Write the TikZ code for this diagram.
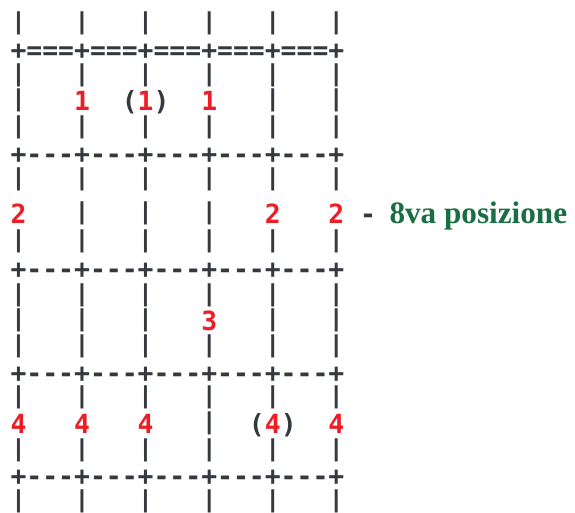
\documentclass[tikz,border=0pt]{standalone}
\usepackage{fontspec}
\usepackage{graphicx}
\setmonofont{DejaVu Sans Mono}
\newfontfamily\lblfont{Liberation Serif}
\definecolor{ink}{HTML}{35393E}
\definecolor{fr}{HTML}{EE1C25}
\definecolor{grn}{HTML}{1B6E43}
\newcommand\vb{\raisebox{3.4pt}{\scalebox{1}[0.88]{|}}}
\newcommand\R[1]{\textcolor{fr}{#1}}
\newcommand\bars{\vb~~~\vb~~~\vb~~~\vb~~~\vb~~~\vb}
\newcommand\dashrow{+---+---+---+---+---+}
\begin{document}
\begin{tikzpicture}[x=1pt,y=-1pt,
  asciiline/.style={anchor=base west, inner sep=0pt, outer sep=0pt, text=ink,
    font=\ttfamily\bfseries\fontsize{26.4}{26.4}\selectfont},
  posnote/.style={anchor=base west, inner sep=0pt, outer sep=0pt, text=grn,
    font=\lblfont\bfseries\fontsize{31.2}{31.2}\selectfont}]
\useasboundingbox (0,0) rectangle (575,513);
\node[asciiline] (r0)  at (10.56,32.9)  {\bars};
\node[asciiline] (r1)  at (10.56,59.8)  {+===+===+===+===+===+};
\node[asciiline] (r2)  at (10.56,84.6)  {\bars};
\node[asciiline] (r3)  at (10.56,110.3) {\vb~~~\R{1}~~(\R{1})~~\R{1}~~~\vb~~~\vb};
\node[asciiline] (r4)  at (10.56,136.8) {\bars};
\node[asciiline] (r5)  at (10.56,163.2) {\dashrow};
\node[asciiline] (r6)  at (10.56,188.8) {\bars};
\node[asciiline] (r7)  at (10.56,223.3) {\R{2}~~~\vb~~~\vb~~~\vb~~~\R{2}~~~\R{2}~-};
\node[posnote]   (pos) at (389.5,223.3) {8va posizione};
\node[asciiline] (r8)  at (10.56,251.3) {\bars};
\node[asciiline] (r9)  at (10.56,278.5) {\dashrow};
\node[asciiline] (r10) at (10.56,304.6) {\bars};
\node[asciiline] (r11) at (10.56,330.0) {\vb~~~\vb~~~\vb~~~\R{3}~~~\vb~~~\vb};
\node[asciiline] (r12) at (10.56,356.1) {\bars};
\node[asciiline] (r13) at (10.56,382.5) {\dashrow};
\node[asciiline] (r14) at (10.56,407.1) {\bars};
\node[asciiline] (r15) at (10.56,433.3) {\R{4}~~~\R{4}~~~\R{4}~~~\vb~~(\R{4})~~\R{4}};
\node[asciiline] (r16) at (10.56,460.1) {\bars};
\node[asciiline] (r17) at (10.56,485.9) {\dashrow};
\node[asciiline] (r18) at (10.56,510.4) {\bars};
\end{tikzpicture}
\end{document}
